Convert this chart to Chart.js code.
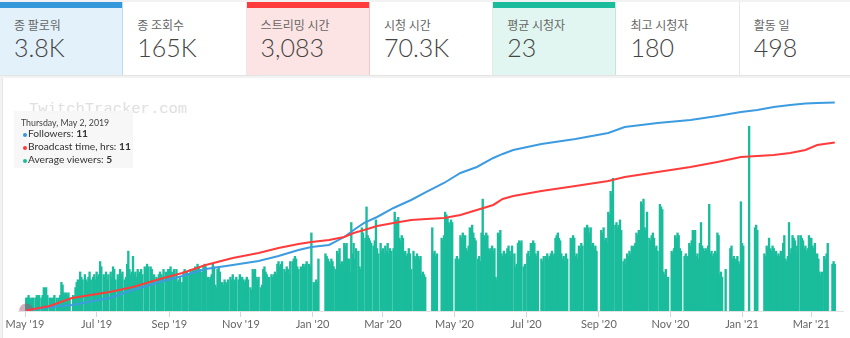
<!DOCTYPE html>
<html>
<head>
<meta charset="utf-8">
<script src="https://cdn.jsdelivr.net/npm/chart.js@4.4.0/dist/chart.umd.min.js"></script>
<style>
  html, body { margin: 0; padding: 0; }
  body { width: 850px; height: 338px; background: #f2f2f2; position: relative; overflow: hidden;
         font-family: Lato, "Noto Sans CJK KR", sans-serif; }
  .stats { position: absolute; left: 0; top: 2px; width: 850px; height: 73px; display: flex;
           background: #fff; border-bottom: 1px solid #e4e4e4; }
  .stat { position: relative; width: 123.3px; height: 73px; box-sizing: border-box; border-right: 1px solid #e8e8e8; flex: none; }
  .stat:last-child { flex: 1; border-right: none; }
  .stat .top { position: absolute; left: 0; right: 0; top: 0; height: 6px; }
  .stat .lbl { position: absolute; left: 14px; top: 14px; font-size: 12px; color: #666;
               font-family: "Noto Sans CJK KR", sans-serif; }
  .stat .val { position: absolute; left: 14px; top: 30px; font-size: 25px; font-weight: 300; color: #444; }
  .s-blue { background: #e3f1fb; border-right-color: #bcdcf2; }
  .s-red { background: #fde4e4; border-right-color: #f3c8c8; }
  .s-green { background: #e1f6f0; border-right-color: #c0e9dc; }
  .card { position: absolute; left: 2px; top: 78px; width: 848px; height: 260px; background: #fff;
          border-left: 1px solid #e6e6e6; }
  .wm { position: absolute; left: 29px; top: 100px; font-family: "Liberation Mono", monospace;
        font-size: 15.5px; color: #e0e0e0; }
  .chartbox { position: absolute; left: 0; top: 80px; width: 850px; height: 258px; }
  .tip { position: absolute; left: 14px; top: 111px; width: 119px; height: 57px;
         background: rgba(246,246,246,0.92); color: #333; }
  .tip div { position: absolute; left: 7px; white-space: nowrap; }
  .tip .t { font-size: 8.8px; top: 6px; color: #444; }
  .tip .r { font-size: 10.2px; left: 14px; }
  .tip .dot { position: absolute; left: -5px; top: 6px; width: 4px; height: 4px; border-radius: 50%; }
</style>
</head>
<body>
<div class="stats">
  <div class="stat s-blue"><div class="top" style="background:#3498db"></div><div class="lbl">종 팔로워</div><div class="val">3.8K</div></div>
  <div class="stat"><div class="lbl">종 조회수</div><div class="val">165K</div></div>
  <div class="stat s-red"><div class="top" style="background:#ff3b3b"></div><div class="lbl">스트리밍 시간</div><div class="val">3,083</div></div>
  <div class="stat"><div class="lbl">시청 시간</div><div class="val">70.3K</div></div>
  <div class="stat s-green"><div class="top" style="background:#1abc9c"></div><div class="lbl">평균 시청자</div><div class="val">23</div></div>
  <div class="stat"><div class="lbl">최고 시청자</div><div class="val">180</div></div>
  <div class="stat"><div class="lbl">활동 일</div><div class="val">498</div></div>
</div>
<div class="card"></div>
<div class="wm">TwitchTracker.com</div>
<div class="chartbox"><canvas id="chart"></canvas></div>
<div class="tip">
  <div class="t">Thursday, May 2, 2019</div>
  <div class="r" style="top:16px"><span class="dot" style="background:#3498db"></span>Followers: <b>11</b></div>
  <div class="r" style="top:29px"><span class="dot" style="background:#ff3b3b"></span>Broadcast time, hrs: <b>11</b></div>
  <div class="r" style="top:42px"><span class="dot" style="background:#1abc9c"></span>Average viewers: <b>5</b></div>
</div>
<script>
// daily average viewers, one line per month, 0 = no stream
const viewers2019 = [
  0,5,5,6,5,4,5,5,0,5,6,5,6,0,5,6,9,8,9,6,0,5,5,4,5,6,0,5,4,5,6,            // May
  11,10,7,6,7,6,7,5,0,0,6,5,9,11,12,11,15,13,12,0,14,12,11,13,15,12,0,13,14,12, // Jun
  15,13,14,19,17,0,14,13,15,12,14,0,15,13,17,16,12,0,14,13,16,14,15,0,12,13,18,23,16,14,15, // Jul
  21,14,15,13,16,14,15,16,14,0,17,16,18,17,0,17,16,13,14,0,13,12,14,15,14,13,16,0,15,14,16, // Aug
  16,17,15,0,16,13,16,11,12,13,0,11,15,16,13,15,0,14,16,15,16,0,17,16,18,17,16,0,15,17,    // Sep
  18,17,0,13,12,13,14,18,17,10,9,16,17,15,7,11,10,12,11,10,12,0,13,12,14,11,12,13,0,12,14,  // Oct
  12,13,12,11,12,13,12,0,9,8,16,15,16,13,12,13,0,9,10,16,17,15,14,12,13,0,14,13,14,15,      // Nov
  14,18,19,17,18,19,0,16,15,17,16,14,19,0,19,20,21,20,17,16,0,17,16,18,17,18,19,0,18,17,30  // Dec
];
const viewers2020 = [
  0,11,10,12,11,20,0,0,0,0,0,22,21,20,19,18,20,19,17,0,16,23,22,24,18,19,18,26,25,26,20,    // Jan
  20,15,34,22,26,20,24,0,23,17,16,32,30,0,28,40,29,28,27,26,0,25,27,35,24,22,0,26,23,       // Feb
  24,22,25,23,26,22,24,23,0,24,38,35,34,36,28,27,29,28,22,23,21,22,24,22,16,0,23,21,20,22,21, // Mar
  20,21,14,15,14,13,0,0,0,0,0,32,22,23,21,22,0,0,0,28,27,29,38,37,36,34,33,35,34,0,         // Apr
  0,20,21,19,20,29,28,30,27,29,24,23,25,32,31,33,30,28,27,0,20,21,19,30,43,29,28,30,29,24,23, // May
  24,25,23,24,13,12,30,29,31,22,21,23,0,22,24,25,23,21,25,0,22,17,18,26,27,26,27,0,17,18,   // Jun
  0,22,23,21,26,25,27,26,22,21,23,0,0,20,19,21,0,21,22,20,21,22,23,21,22,28,29,30,28,27,22, // Jul
  20,21,19,22,20,0,0,28,27,29,28,21,22,20,25,24,26,25,0,32,31,33,32,30,32,25,26,24,25,23,0, // Aug
  0,0,31,30,32,27,28,26,38,37,46,45,51,0,33,34,32,33,35,31,0,19,20,18,22,21,23,22,25,24,    // Sep
  25,26,30,29,31,30,42,41,43,32,31,38,0,28,27,29,30,28,24,25,23,0,41,40,39,15,14,16,12,13,0, // Oct
  0,23,22,24,29,28,30,29,24,23,0,0,21,22,20,21,26,25,27,31,30,31,21,22,20,26,34,25,24,23,   // Nov
  24,23,25,41,22,23,21,22,23,22,30,29,14,15,13,0,0,16,0,0,0,24,25,20,21,19,20,21,19,18,42   // Dec
];
const viewers2021 = [
  26,25,0,0,0,0,71,0,0,0,0,32,33,31,0,0,0,0,0,22,21,25,24,28,24,23,25,24,22,23,21,          // Jan
  22,21,23,22,26,29,20,19,21,34,22,24,29,28,27,22,25,29,0,29,28,27,24,25,23,24,29,28,       // Feb
  28,25,24,26,21,22,20,15,14,15,0,21,20,22,26,0,0,0,18,19,18                                // Mar 1-21
];

// cumulative series, sampled (day index counted from May 1, 2019)
const lineDays = [1,21,40,72,92,115,134,154,177,199,216,233,244,259,272,280,289,300,314,329,342,357,371,385,399,407,416,440,469,497,511,539,567,590,610,624,638,652,665,675,690];
const followers = [11,73,110,238,384,530,640,768,841,915,1006,1116,1170,1207,1353,1481,1610,1719,1884,2030,2177,2341,2524,2634,2798,2872,2945,3054,3146,3256,3365,3439,3493,3567,3640,3676,3731,3768,3795,3804,3813];
const hours = [11,91,238,348,439,585,695,841,969,1061,1152,1225,1262,1299,1353,1427,1481,1555,1610,1664,1683,1701,1756,1847,1939,2048,2103,2195,2286,2378,2451,2542,2634,2725,2817,2835,2853,2890,2945,3036,3083];

const tickDates = ['2019-05-01','2019-07-01','2019-09-01','2019-11-01','2020-01-01','2020-03-01','2020-05-01','2020-07-01','2020-09-01','2020-11-01','2021-01-01','2021-03-01'];
const tickLabels = ["May '19","Jul '19","Sep '19","Nov '19","Jan '20","Mar '20","May '20","Jul '20","Sep '20","Nov '20","Jan '21","Mar '21"];

const start = Date.UTC(2019, 4, 1);
function dayOf(s) {
  const p = s.split('-').map(Number);
  return Math.round((Date.UTC(p[0], p[1] - 1, p[2]) - start) / 86400000);
}
const tickDays = tickDates.map(dayOf);

const viewers = [].concat(viewers2019, viewers2020, viewers2021);
const barData = [];
viewers.forEach((v, i) => { if (v > 0) barData.push({ x: i, y: v }); });
const folData = lineDays.map((d, i) => ({ x: d, y: followers[i] }));
const hrsData = lineDays.map((d, i) => ({ x: d, y: hours[i] }));

new Chart(document.getElementById('chart'), {
  type: 'bar',
  data: {
    datasets: [
      { type: 'line', label: 'Broadcast time, hrs', data: hrsData, yAxisID: 'y1', order: 1,
        borderColor: '#ff3b3b', borderWidth: 2, tension: 0, pointRadius: 0 },
      { type: 'line', label: 'Followers', data: folData, yAxisID: 'y1', order: 2,
        borderColor: '#3d9be0', borderWidth: 2, tension: 0,
        pointRadius: c => c.dataIndex === 0 ? 7 : 0, pointBorderWidth: 0,
        pointBackgroundColor: 'rgba(170,70,110,0.45)' },
      { label: 'Average viewers', data: barData, yAxisID: 'y', order: 3,
        backgroundColor: '#1abc9c', barThickness: 1.7 }
    ]
  },
  options: {
    responsive: true,
    maintainAspectRatio: false,
    devicePixelRatio: 1,
    animation: false,
    events: [],
    layout: { padding: { left: 18, right: 4, top: 15, bottom: 7 } },
    plugins: { legend: { display: false }, tooltip: { enabled: false } },
    scales: {
      x: {
        type: 'linear', min: -6, max: 697, offset: false,
        afterBuildTicks: s => { s.ticks = tickDays.map(v => ({ value: v })); },
        afterFit: s => { s.height = 20; },
        ticks: { autoSkip: false, maxRotation: 0, padding: 1, color: '#666',
                 font: { family: 'Lato', size: 11 },
                 callback: (v, i) => tickLabels[i] },
        grid: { drawOnChartArea: false, drawTicks: true, tickLength: 6, color: '#ccd6eb', offset: false },
        border: { display: true, color: '#e3e3e3' }
      },
      y: { display: false, min: 0, max: 83 },
      y1: { display: false, min: 0, max: 3950 }
    }
  }
});
</script>
</body>
</html>
